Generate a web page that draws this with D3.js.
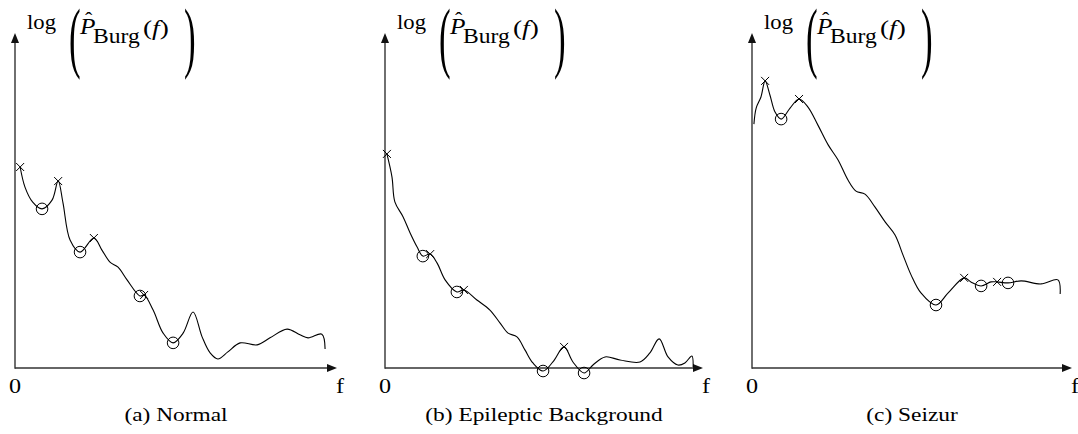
<!DOCTYPE html>
<html>
<head>
<meta charset="utf-8">
<script src="https://cdn.jsdelivr.net/npm/d3@7"></script>
<style>
  html, body { margin: 0; padding: 0; background: #fff; }
  svg { display: block; }
</style>
</head>
<body>
<svg id="chart" width="1078" height="434"></svg>
<script>
// ---------------- DATA (normalised frequency f, log power) ----------------
const captions = ["(a) Normal", "(b) Epileptic Background", "(c) Seizur"];
const tickLabels = ["0", "f"];

const curveNormal = [
  [0.016, 0.600], [0.031, 0.540], [0.055, 0.495], [0.084, 0.475], [0.115, 0.501],
  [0.134, 0.558], [0.149, 0.493], [0.171, 0.382], [0.202, 0.346], [0.245, 0.388],
  [0.270, 0.352], [0.295, 0.316], [0.320, 0.301], [0.348, 0.263], [0.388, 0.215],
  [0.401, 0.218], [0.429, 0.173], [0.460, 0.104], [0.491, 0.075], [0.522, 0.104],
  [0.553, 0.167], [0.581, 0.093], [0.606, 0.045], [0.630, 0.027], [0.661, 0.048],
  [0.699, 0.075], [0.752, 0.069], [0.792, 0.090], [0.845, 0.116], [0.885, 0.099],
  [0.910, 0.090], [0.953, 0.101], [0.963, 0.057]
];
const maxNormal = [[0.016, 0.600], [0.134, 0.558], [0.245, 0.388], [0.401, 0.218]];
const minNormal = [[0.084, 0.475], [0.202, 0.346], [0.388, 0.215], [0.491, 0.075]];

const curveBackground = [
  [0.006, 0.639], [0.022, 0.570], [0.031, 0.496], [0.057, 0.451], [0.079, 0.403],
  [0.101, 0.361], [0.119, 0.334], [0.142, 0.340], [0.164, 0.313], [0.189, 0.263],
  [0.226, 0.227], [0.248, 0.233], [0.289, 0.203], [0.330, 0.173], [0.362, 0.134],
  [0.387, 0.104], [0.415, 0.093], [0.440, 0.054], [0.465, 0.015], [0.497, -0.009],
  [0.528, 0.018], [0.563, 0.063], [0.591, 0.018], [0.626, -0.015], [0.654, 0.009],
  [0.692, 0.033], [0.739, 0.024], [0.802, 0.018], [0.833, 0.045], [0.862, 0.087],
  [0.890, 0.033], [0.921, 0.009], [0.943, 0.015], [0.965, 0.036], [0.969, 0.003]
];
const maxBackground = [[0.006, 0.639], [0.142, 0.340], [0.248, 0.233], [0.563, 0.063]];
const minBackground = [[0.119, 0.334], [0.226, 0.227], [0.497, -0.009], [0.626, -0.015]];

const curveSeizure = [
  [0.006, 0.728], [0.013, 0.776], [0.028, 0.809], [0.041, 0.857], [0.056, 0.815],
  [0.072, 0.764], [0.091, 0.743], [0.119, 0.776], [0.147, 0.803], [0.175, 0.779],
  [0.206, 0.725], [0.238, 0.666], [0.269, 0.621], [0.300, 0.561], [0.325, 0.528],
  [0.353, 0.519], [0.384, 0.481], [0.416, 0.436], [0.447, 0.397], [0.472, 0.337],
  [0.497, 0.278], [0.528, 0.224], [0.575, 0.188], [0.613, 0.224], [0.663, 0.269],
  [0.684, 0.257], [0.716, 0.245], [0.747, 0.257], [0.766, 0.257], [0.800, 0.254],
  [0.841, 0.260], [0.903, 0.251], [0.956, 0.263], [0.963, 0.221]
];
const maxSeizure = [[0.041, 0.857], [0.147, 0.803], [0.663, 0.269], [0.766, 0.257]];
const minSeizure = [[0.091, 0.743], [0.575, 0.188], [0.716, 0.245], [0.800, 0.254]];

// ---------------- LAYOUT ----------------
const FONT = "'Liberation Serif', 'Times New Roman', serif";
const panels = [
  { x0: 15,  x1: 337,  curve: curveNormal,     maxima: maxNormal,     minima: minNormal,     caption: captions[0] },
  { x0: 385, x1: 703,  curve: curveBackground, maxima: maxBackground, minima: minBackground, caption: captions[1] },
  { x0: 752, x1: 1072, curve: curveSeizure,    maxima: maxSeizure,    minima: minSeizure,    caption: captions[2] }
];
const yBase = 368, yTop = 33;

const svg = d3.select("#chart");

// text placed at (x,y) with horizontal scale sx and vertical scale sy
function txt(g, size, x, y, sx = 1, sy = 1, anchor = "start") {
  return g.append("text")
    .attr("font-family", FONT).attr("font-size", size).attr("fill", "#000")
    .attr("text-anchor", anchor)
    .attr("transform", `translate(${x},${y}) scale(${sx},${sy})`);
}

panels.forEach(p => {
  const x = d3.scaleLinear().domain([0, 1]).range([p.x0, p.x1]);
  const y = d3.scaleLinear().domain([0, 1]).range([yBase, yTop]);
  const g = svg.append("g");

  // axes with arrow heads
  const axisColor = "#333";
  const aL = 10, aW = 4;
  g.append("line").attr("x1", x(0)).attr("y1", y(0)).attr("x2", x(1) - aL + 1).attr("y2", y(0))
    .attr("stroke", axisColor).attr("stroke-width", 1.4);
  g.append("line").attr("x1", x(0)).attr("y1", y(0) + 0.7).attr("x2", x(0)).attr("y2", y(1) + aL - 1)
    .attr("stroke", axisColor).attr("stroke-width", 1.4);
  g.append("path")
    .attr("d", `M${x(1)},${y(0)} L${x(1) - aL},${y(0) - aW} L${x(1) - aL},${y(0) + aW} Z`)
    .attr("fill", "#111");
  g.append("path")
    .attr("d", `M${x(0)},${y(1)} L${x(0) - aW},${y(1) + aL} L${x(0) + aW},${y(1) + aL} Z`)
    .attr("fill", "#111");

  // tick labels "0" and "f"
  txt(g, 21, x(0), 393, 1.15, 1, "middle").text(tickLabels[0]);
  txt(g, 21, x(1) + 3, 393, 1.15, 1, "middle").text(tickLabels[1]);

  // y label: log ( P̂_Burg(f) )
  const lx = p.x0;
  txt(g, 21, lx + 12, 29, 1.08).text("log");
  txt(g, 28, lx + 54, 63, 1.25, 2.8).text("(");
  txt(g, 23, lx + 65, 34, 1.1).attr("font-style", "italic").text("P");
  txt(g, 20, lx + 70, 27, 1.1).text("ˆ");
  txt(g, 20, lx + 78, 43, 1.18).text("Burg");
  const ft = txt(g, 21, lx + 128, 35, 1.3);
  ft.append("tspan").text("(");
  ft.append("tspan").attr("font-style", "italic").text("f");
  ft.append("tspan").text(")");
  txt(g, 28, lx + 169, 63, 1.25, 2.8).text(")");

  // curve
  const line = d3.line().x(d => x(d[0])).y(d => y(d[1])).curve(d3.curveCatmullRom.alpha(0.5));
  g.append("path").datum(p.curve).attr("d", line)
    .attr("fill", "none").attr("stroke", "#000").attr("stroke-width", 1.1);

  // minima: circles
  g.selectAll("circle.min").data(p.minima).enter().append("circle")
    .attr("cx", d => x(d[0])).attr("cy", d => y(d[1])).attr("r", 5.8)
    .attr("fill", "none").attr("stroke", "#000").attr("stroke-width", 1);

  // maxima: crosses
  const s = 4;
  g.selectAll("path.max").data(p.maxima).enter().append("path")
    .attr("d", d => {
      const cx = x(d[0]), cy = y(d[1]);
      return `M${cx - s},${cy - s}L${cx + s},${cy + s}M${cx - s},${cy + s}L${cx + s},${cy - s}`;
    })
    .attr("stroke", "#000").attr("stroke-width", 1).attr("fill", "none");

  // caption
  txt(g, 19, (p.x0 + p.x1) / 2, 421, 1.23, 1, "middle").text(p.caption);
});
</script>
</body>
</html>
